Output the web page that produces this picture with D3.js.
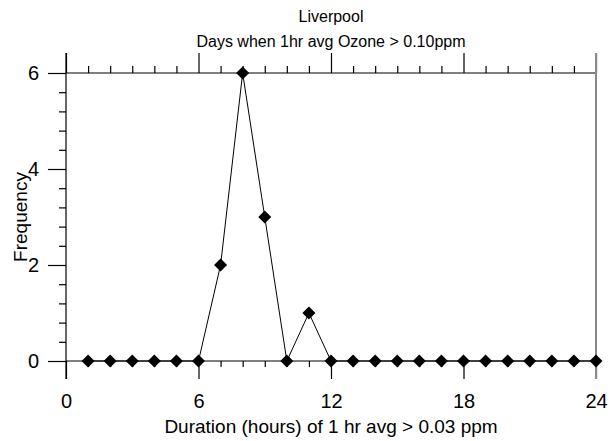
<!DOCTYPE html>
<meta charset="utf-8">
<script src="https://d3js.org/d3.v7.min.js"></script>
<style>
  body { margin: 0; background: #fff; }
  text { font-family: "Liberation Sans", Arial, sans-serif; }
</style>
<div id="chart"></div>
<script>

  var hours = [1,2,3,4,5,6,7,8,9,10,11,12,13,14,15,16,17,18,19,20,21,22,23,24]
  var freq  = [0,0,0,0,0,0,2,6,3,0,1,0,0,0,0,0,0,0,0,0,0,0,0,0]
  var xTicks = [0,6,12,18,24]
  var yTicks = [0,2,4,6]

  var width = 613, height = 441
  var margin = {top: 73, right: 17, bottom: 80, left: 66}

  var svg = d3.select("#chart").append("svg")
      .attr("width", width)
      .attr("height", height)

  var x = d3.scaleLinear().domain([0, 24]).range([margin.left, width - margin.right])
  var y = d3.scaleLinear().domain([0, 6]).range([height - margin.bottom, margin.top])

  var minorX = d3.range(0, 25).filter(function(d){ return d % 6 != 0 })
  var minorY = d3.range(0, 6.01, 0.4).map(function(d){ return +d.toFixed(1) })
    .filter(function(d){ return Math.abs(d/2 - Math.round(d/2)) > 0.01 })

  function clean(g) {
    g.select(".domain").remove()
    g.selectAll(".tick line").attr("stroke", "#000").attr("stroke-width", 1.2)
  }

  // top axis (at y = 6)
  svg.append("g").attr("transform", "translate(0," + y(6) + ")")
    .call(d3.axisTop(x).tickValues(xTicks).tickSize(20).tickFormat(""))
    .call(clean)
  svg.append("g").attr("transform", "translate(0," + y(6) + ")")
    .call(d3.axisTop(x).tickValues(minorX).tickSize(7).tickFormat(""))
    .call(clean)

  // bottom axis (at y = 0)
  var bx = svg.append("g").attr("transform", "translate(0," + y(0) + ")")
    .call(d3.axisBottom(x).tickValues(xTicks).tickSize(18).tickPadding(15).tickFormat(d3.format("d")))
    .call(clean)
  bx.selectAll("text").style("font-size", "20px").attr("fill", "#000")
  svg.append("g").attr("transform", "translate(0," + y(0) + ")")
    .call(d3.axisBottom(x).tickValues(minorX).tickSize(6).tickFormat(""))
    .call(clean)

  // left axis
  var ly = svg.append("g").attr("transform", "translate(" + x(0) + ",0)")
    .call(d3.axisLeft(y).tickValues(yTicks).tickSize(18).tickPadding(9).tickFormat(d3.format("d")))
    .call(clean)
  ly.selectAll("text").style("font-size", "20px").attr("fill", "#000")
  svg.append("g").attr("transform", "translate(" + x(0) + ",0)")
    .call(d3.axisLeft(y).tickValues(minorY).tickSize(7).tickFormat(""))
    .call(clean)

  // frame lines
  svg.append("line")
    .attr("x1", x(0)).attr("x2", x(24))
    .attr("y1", y(6)).attr("y2", y(6))
    .attr("stroke", "#000").attr("stroke-width", 1.2)
  svg.append("line")
    .attr("x1", x(0)).attr("x2", x(24))
    .attr("y1", y(0)).attr("y2", y(0))
    .attr("stroke", "#000").attr("stroke-width", 1.2)
  svg.append("line")
    .attr("x1", x(0)).attr("x2", x(0))
    .attr("y1", y(6) - 20).attr("y2", y(0) + 18)
    .attr("stroke", "#000").attr("stroke-width", 1.2)
  svg.append("line")
    .attr("x1", x(24)).attr("x2", x(24))
    .attr("y1", y(6) - 20).attr("y2", y(0) + 18)
    .attr("stroke", "#888").attr("stroke-width", 2)

  // data line
  var pts = hours.map(function(h, i){ return [h, freq[i]] })

  svg.append("path")
    .datum(pts)
    .attr("fill", "none")
    .attr("stroke", "#000")
    .attr("stroke-width", 1)
    .attr("d", d3.line()
      .x(function(d){ return x(d[0]) })
      .y(function(d){ return y(d[1]) }))

  svg.selectAll(".pt")
    .data(pts)
    .enter()
    .append("path")
      .attr("class", "pt")
      .attr("transform", function(d){ return "translate(" + x(d[0]) + "," + y(d[1]) + ") rotate(45)" })
      .attr("d", d3.symbol().type(d3.symbolSquare).size(85))
      .attr("fill", "#000")

  // titles
  svg.append("text")
    .attr("x", (x(0) + x(24)) / 2)
    .attr("y", 22)
    .attr("text-anchor", "middle")
    .style("font-size", "16px")
    .text("Liverpool")

  svg.append("text")
    .attr("x", (x(0) + x(24)) / 2)
    .attr("y", 47)
    .attr("text-anchor", "middle")
    .style("font-size", "16px")
    .text("Days when 1hr avg Ozone > 0.10ppm")

  svg.append("text")
    .attr("x", (x(0) + x(24)) / 2)
    .attr("y", 433)
    .attr("text-anchor", "middle")
    .style("font-size", "19px")
    .text("Duration (hours) of 1 hr avg > 0.03 ppm")

  svg.append("text")
    .attr("transform", "translate(27," + ((y(0) + y(6)) / 2) + ") rotate(-90)")
    .attr("text-anchor", "middle")
    .style("font-size", "19px")
    .text("Frequency")

</script>
